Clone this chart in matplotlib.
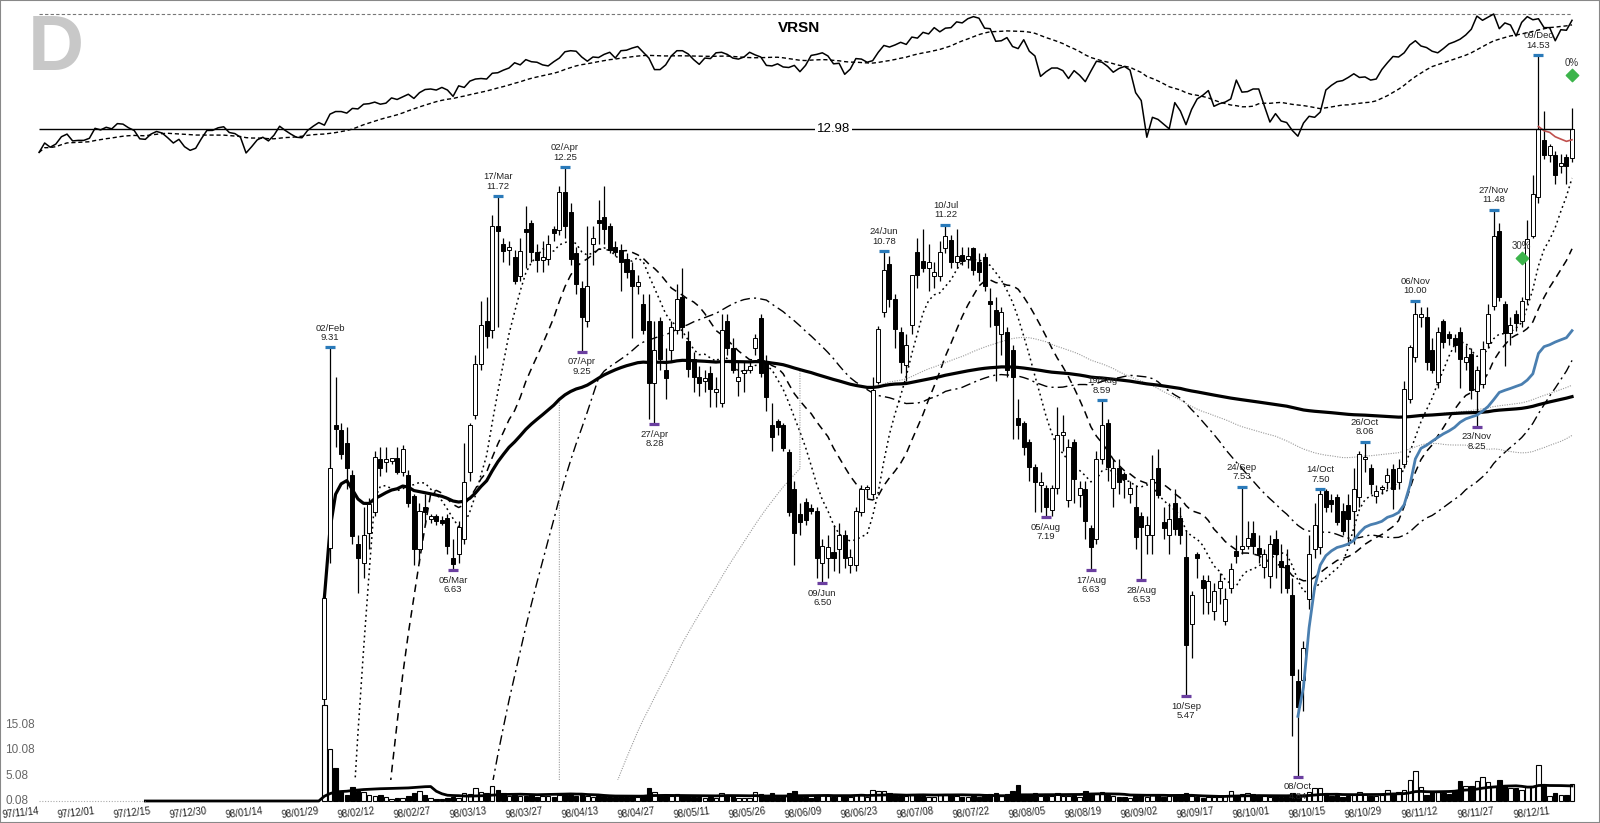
import numpy as np
import pandas as pd
import matplotlib
matplotlib.use('Agg')
import matplotlib.pyplot as plt
from matplotlib.patches import Rectangle
from matplotlib.transforms import blended_transform_factory

plt.rcParams['font.family'] = ['Liberation Sans', 'DejaVu Sans']

# trading-day index 0 = 97/11/14, VRSN listed on day 51 (98/01/30)
first_idx = 51

opens = [5.45, 6.86, 8.27, 8.21, 8.05, 7.67, 6.90, 6.70, 7.02, 7.25,
         7.85, 7.82, 7.83, 7.87, 7.70, 7.67, 7.42, 6.85, 7.30, 7.17,
         7.20, 7.15, 7.18, 6.75, 6.80, 6.95, 7.70, 8.40, 9.08, 9.70,
         9.56, 11.20, 10.90, 10.80, 10.68, 10.38, 11.15, 11.25, 10.77, 10.63,
         10.66, 11.15, 11.13, 11.80, 11.45, 10.75, 10.20, 9.70, 10.90, 11.30,
         11.35, 11.20, 10.85, 10.80, 10.65, 10.47, 10.22, 9.95, 9.70, 8.82,
         9.70, 9.00, 9.27, 9.56, 10.06, 9.40, 9.15, 8.90, 8.85, 8.96,
         8.70, 8.55, 9.70, 9.30, 8.85, 8.95, 9.00, 9.30, 9.73, 9.10,
         8.27, 8.32, 8.27, 7.94, 7.50, 7.22, 7.36, 7.28, 7.26, 6.70,
         6.75, 6.82, 6.85, 7.00, 6.68, 6.68, 7.25, 7.50, 7.45, 8.83,
         9.83, 10.57, 10.03, 9.53, 9.06, 9.63, 10.77, 10.62, 10.50, 10.38,
         10.38, 10.83, 10.96, 10.60, 10.72, 10.66, 10.83, 10.60, 10.68, 10.00,
         9.86, 9.50, 9.53, 9.27, 8.36, 8.30, 8.06, 7.76, 7.55, 7.52,
         7.27, 7.52, 8.15, 7.38, 8.06, 7.44, 7.50, 7.07, 6.95, 7.86,
         8.30, 7.52, 7.75, 7.68, 7.45, 7.30, 7.20, 7.00, 7.00, 7.75,
         7.14, 7.00, 7.35, 7.18, 6.77, 6.11, 6.80, 6.53, 6.32, 6.23,
         6.45, 6.14, 6.45, 6.83, 6.85, 6.88, 7.02, 6.86, 6.66, 6.57,
         6.95, 6.72, 6.68, 6.38, 5.60, 5.61, 6.35, 6.85, 6.87, 7.48,
         7.38, 7.41, 7.26, 7.32, 7.26, 7.41, 7.85, 7.75, 7.42, 7.50,
         7.58, 7.73, 7.58, 7.80, 8.61, 9.17, 9.75, 9.75, 9.27, 8.83,
         9.70, 9.50, 9.45, 9.53, 9.10, 9.22, 8.71, 8.81, 9.38, 9.92,
         11.12, 9.95, 9.51, 9.80, 9.70, 10.03, 11.03, 11.70, 12.78, 12.48,
         12.48, 12.28, 12.44, 12.42]
highs = [6.40, 9.31, 8.90, 8.30, 8.25, 7.72, 7.00, 7.30, 7.40, 7.95,
         8.00, 8.00, 7.87, 8.00, 8.02, 7.72, 7.45, 7.35, 7.45, 7.22,
         7.22, 7.20, 7.22, 6.95, 7.15, 8.05, 8.30, 9.20, 10.00, 10.05,
         11.40, 11.72, 11.00, 10.95, 10.80, 11.00, 11.55, 11.30, 10.90, 10.95,
         11.05, 11.20, 11.90, 12.25, 11.60, 10.85, 10.30, 11.20, 11.20, 11.65,
         11.90, 11.25, 10.95, 10.90, 10.75, 10.60, 10.40, 10.10, 10.10, 9.70,
         9.75, 9.30, 9.70, 10.25, 10.50, 9.55, 9.25, 9.05, 9.00, 9.05,
         8.90, 9.80, 9.80, 9.45, 9.10, 9.10, 9.10, 9.50, 9.80, 9.20,
         8.55, 8.35, 8.30, 7.98, 7.60, 7.35, 7.40, 7.33, 7.30, 6.95,
         7.00, 7.10, 7.12, 7.05, 6.85, 7.30, 7.55, 7.55, 8.90, 9.62,
         10.78, 10.70, 10.10, 9.60, 9.50, 10.40, 11.00, 11.15, 10.90, 10.60,
         10.95, 11.22, 11.05, 11.15, 10.85, 10.85, 10.85, 10.75, 10.75, 10.20,
         10.05, 9.90, 9.60, 9.35, 8.60, 8.32, 8.10, 7.80, 7.70, 7.55,
         7.55, 8.50, 8.40, 8.10, 8.10, 7.60, 7.60, 7.10, 7.95, 8.59,
         8.35, 7.85, 7.85, 7.70, 7.60, 7.55, 7.25, 7.20, 7.90, 7.98,
         7.30, 7.35, 7.50, 7.30, 7.05, 6.42, 6.82, 6.58, 6.58, 6.50,
         6.60, 6.45, 6.70, 7.00, 7.53, 7.15, 7.15, 7.00, 6.85, 7.00,
         7.05, 6.90, 6.85, 6.55, 5.70, 5.95, 7.00, 7.35, 7.50, 7.50,
         7.45, 7.45, 7.35, 7.45, 7.75, 7.95, 8.06, 7.80, 7.55, 7.55,
         7.75, 7.80, 7.85, 8.85, 9.35, 10.00, 9.90, 9.90, 9.45, 9.60,
         9.72, 9.55, 9.50, 9.60, 9.35, 9.30, 9.05, 9.40, 9.95, 11.48,
         11.25, 10.00, 9.75, 9.85, 10.05, 11.30, 12.10, 14.53, 13.35, 12.70,
         12.55, 12.50, 12.50, 13.40]
lows = [5.40, 6.70, 8.00, 7.85, 7.50, 6.90, 6.40, 6.55, 6.85, 7.20,
        7.65, 7.70, 7.80, 7.68, 7.65, 7.30, 6.68, 6.70, 7.10, 7.12,
        7.10, 7.10, 6.80, 6.63, 6.70, 6.90, 7.60, 8.35, 9.00, 9.30,
        9.45, 9.60, 10.60, 10.55, 10.25, 10.30, 10.50, 10.60, 10.45, 10.45,
        10.55, 10.95, 11.05, 11.00, 10.55, 10.10, 9.25, 9.60, 10.55, 10.90,
        10.90, 10.75, 10.70, 10.15, 10.35, 9.45, 10.10, 9.50, 8.35, 8.28,
        9.00, 8.60, 9.10, 9.50, 9.45, 8.90, 8.70, 8.65, 8.70, 8.50,
        8.50, 8.50, 9.20, 8.95, 8.65, 8.70, 8.95, 9.20, 8.90, 8.45,
        7.95, 8.15, 7.95, 7.20, 6.68, 7.00, 7.10, 7.22, 6.55, 6.50,
        6.55, 6.62, 6.60, 6.65, 6.60, 6.62, 7.20, 7.40, 7.40, 8.80,
        9.75, 9.90, 9.30, 8.95, 8.85, 9.50, 10.20, 10.45, 10.15, 10.20,
        10.30, 10.75, 10.50, 10.50, 10.55, 10.50, 10.40, 10.30, 10.15, 9.60,
        8.85, 9.20, 8.90, 8.10, 8.10, 7.90, 7.60, 7.25, 7.25, 7.19,
        7.20, 7.45, 7.95, 7.30, 7.35, 7.30, 6.95, 6.63, 6.90, 7.80,
        7.60, 7.30, 7.45, 7.40, 7.35, 6.85, 6.53, 6.80, 6.80, 7.40,
        6.95, 6.80, 7.00, 6.90, 5.47, 5.80, 6.55, 6.20, 6.20, 6.15,
        6.30, 6.10, 6.40, 6.70, 6.80, 6.85, 6.80, 6.70, 6.55, 6.45,
        6.55, 6.40, 6.40, 5.15, 4.84, 5.35, 6.25, 6.75, 6.80, 7.25,
        7.25, 7.10, 7.00, 6.90, 6.90, 7.30, 7.70, 7.45, 7.35, 7.45,
        7.50, 7.28, 7.50, 7.75, 8.55, 9.10, 9.60, 9.00, 8.95, 8.75,
        9.30, 9.35, 9.25, 8.75, 9.00, 8.60, 8.25, 8.75, 9.30, 9.85,
        10.00, 9.05, 9.35, 9.55, 9.60, 9.95, 11.00, 11.60, 12.40, 12.35,
        11.95, 12.15, 11.95, 12.35]
closes = [6.36, 7.75, 8.22, 7.92, 7.75, 6.98, 6.75, 7.00, 7.33, 7.88,
          7.75, 7.85, 7.85, 7.70, 7.97, 7.35, 6.85, 7.26, 7.25, 7.20,
          7.15, 7.13, 6.88, 6.69, 7.08, 7.58, 8.27, 9.08, 9.63, 9.48,
          11.20, 11.12, 10.78, 10.82, 10.30, 10.78, 11.10, 10.76, 10.63, 10.68,
          10.90, 11.08, 11.80, 11.20, 10.65, 10.25, 9.75, 10.22, 11.00, 11.25,
          11.15, 10.80, 10.76, 10.60, 10.45, 10.22, 10.28, 9.56, 8.82, 9.27,
          9.15, 8.88, 9.60, 10.03, 9.60, 9.01, 8.90, 8.82, 8.88, 8.74,
          8.70, 9.56, 9.30, 9.00, 8.90, 9.00, 9.05, 9.45, 8.96, 8.63,
          8.12, 8.25, 7.99, 7.25, 7.02, 7.14, 7.16, 7.26, 6.75, 6.88,
          6.87, 6.75, 7.00, 6.75, 6.76, 7.26, 7.50, 7.52, 8.72, 9.57,
          10.47, 10.03, 9.58, 9.10, 9.35, 10.39, 10.40, 10.50, 10.60, 10.45,
          10.77, 11.03, 10.61, 10.70, 10.62, 10.68, 10.47, 10.45, 10.22, 9.95,
          9.63, 9.83, 9.00, 8.90, 8.27, 8.00, 7.76, 7.58, 7.55, 7.30,
          7.52, 8.15, 8.18, 8.00, 7.62, 7.52, 7.15, 6.87, 7.86, 8.27,
          7.76, 7.75, 7.58, 7.62, 7.52, 6.97, 7.08, 7.10, 7.62, 7.44,
          7.07, 7.17, 7.06, 7.00, 5.92, 6.38, 6.75, 6.45, 6.52, 6.42,
          6.52, 6.35, 6.64, 6.78, 6.88, 6.96, 6.88, 6.80, 6.80, 6.90,
          6.80, 6.66, 6.45, 5.65, 5.38, 5.89, 6.80, 7.10, 7.45, 7.30,
          7.33, 7.14, 7.04, 7.17, 7.50, 7.91, 7.88, 7.56, 7.48, 7.52,
          7.67, 7.50, 7.75, 8.74, 9.31, 9.80, 9.80, 9.10, 8.99, 9.53,
          9.39, 9.45, 9.35, 9.15, 9.17, 8.72, 9.00, 9.29, 9.80, 11.03,
          10.06, 9.51, 9.63, 9.67, 10.00, 10.99, 11.76, 12.98, 12.48, 12.65,
          12.10, 12.30, 12.28, 12.98]
volumes = [18.9, 10.3, 6.5, 1.8, 1.2, 2.7, 2.0, 1.8, 1.2, 1.0,
           1.1, 0.8, 0.4, 0.6, 0.5, 0.9, 1.6, 2.0, 1.2, 0.6,
           0.4, 0.3, 0.6, 0.7, 0.6, 1.6, 1.4, 2.6, 1.8, 1.5,
           3.0, 2.2, 1.6, 1.0, 1.2, 0.9, 1.0, 1.1, 0.8, 1.0,
           0.9, 0.7, 1.1, 1.3, 1.2, 1.0, 1.3, 1.0, 0.8, 0.9,
           1.0, 0.8, 0.7, 0.9, 0.8, 1.0, 0.7, 1.1, 2.6, 1.8,
           1.2, 1.0, 0.9, 1.3, 1.1, 0.9, 0.8, 0.7, 0.6, 0.8,
           0.6, 1.6, 1.1, 0.9, 0.6, 0.5, 0.5, 1.8, 1.4, 1.2,
           1.5, 0.8, 1.0, 1.6, 1.9, 1.0, 0.8, 0.6, 1.2, 1.1,
           0.9, 0.8, 1.0, 0.9, 0.7, 1.2, 1.3, 0.8, 2.2, 1.9,
           2.0, 1.5, 1.2, 1.0, 0.9, 1.4, 1.3, 1.0, 0.8, 0.7,
           1.1, 1.3, 1.1, 0.9, 0.8, 0.7, 0.9, 0.8, 1.0, 1.4,
           1.6, 1.0, 1.3, 1.9, 3.2, 1.4, 1.2, 1.5, 1.0, 1.3,
           0.9, 1.5, 1.0, 0.9, 1.2, 0.8, 1.9, 1.6, 1.6, 1.7,
           1.2, 0.9, 0.8, 0.7, 0.6, 1.0, 1.1, 0.8, 1.2, 1.2,
           0.8, 0.9, 1.0, 0.9, 1.6, 1.0, 0.7, 0.6, 0.8, 0.7,
           0.8, 0.9, 1.9, 1.2, 1.4, 1.5, 1.3, 1.0, 0.9, 0.8,
           0.9, 0.8, 0.9, 1.5, 0.9, 1.2, 1.8, 2.5, 2.5, 1.5,
           1.0, 1.1, 0.8, 1.0, 1.2, 1.8, 1.3, 1.0, 0.9, 1.2,
           2.1, 1.5, 1.8, 2.1, 4.1, 5.9, 2.8, 1.2, 2.0, 1.8,
           1.6, 1.4, 2.0, 3.9, 2.9, 2.9, 3.9, 4.7, 3.7, 3.0,
           4.2, 2.9, 2.5, 2.6, 2.2, 2.8, 3.0, 7.2, 2.9, 0.9,
           1.5, 1.2, 1.2, 3.4]

# market index shown in the top strip, one value per trading day from 97/11/14
index_line = [928, 946, 938, 944, 958, 963, 950, 951, 951, 955,
              974, 971, 976, 973, 983, 982, 975, 970, 954, 953,
              963, 968, 965, 956, 946, 953, 939, 932, 936, 954,
              970, 970, 975, 977, 966, 964, 957, 927, 939, 952,
              957, 950, 961, 978, 970, 963, 957, 956, 970, 978,
              985, 980, 1001, 1006, 1006, 1003, 1012, 1011, 1020, 1021,
              1024, 1020, 1022, 1032, 1029, 1034, 1039, 1031, 1042, 1048,
              1049, 1047, 1052, 1047, 1035, 1055, 1052, 1064, 1068, 1069,
              1068, 1079, 1080, 1085, 1089, 1099, 1095, 1105, 1101, 1100,
              1095, 1093, 1101, 1108, 1120, 1122, 1121, 1110, 1102, 1110,
              1109, 1115, 1119, 1108, 1122, 1123, 1127, 1130, 1119, 1108,
              1086, 1086, 1095, 1112, 1122, 1122, 1116, 1105, 1096, 1108,
              1107, 1118, 1119, 1115, 1108, 1106, 1110, 1119, 1114, 1110,
              1094, 1093, 1097, 1091, 1090, 1094, 1082, 1094, 1113, 1115,
              1118, 1112, 1097, 1098, 1077, 1087, 1107, 1106, 1100, 1103,
              1119, 1132, 1129, 1133, 1138, 1134, 1148, 1146, 1157, 1154,
              1166, 1158, 1165, 1166, 1177, 1175, 1183, 1187, 1184, 1165,
              1164, 1140, 1141, 1147, 1130, 1126, 1143, 1121, 1112, 1073,
              1082, 1089, 1089, 1084, 1069, 1084, 1075, 1063, 1083, 1102,
              1100, 1092, 1081, 1088, 1092, 1085, 1042, 1027, 957, 995,
              991, 982, 973, 1023, 1007, 981, 1010, 1030, 1037, 1046,
              1016, 1021, 1024, 1030, 1066, 1043, 1044, 1049, 1049, 1017,
              986, 1002, 988, 985, 970, 959, 984, 997, 995, 1005,
              1047, 1056, 1063, 1065, 1071, 1078, 1071, 1072, 1066, 1068,
              1086, 1099, 1111, 1110, 1118, 1133, 1141, 1131, 1128, 1121,
              1118, 1126, 1135, 1139, 1144, 1152, 1163, 1188, 1180, 1186,
              1192, 1164, 1175, 1171, 1150, 1176, 1187, 1181, 1183, 1166,
              1166, 1141, 1162, 1161, 1180]

date_labels = ['97/11/14', '97/12/01', '97/12/15', '97/12/30', '98/01/14', '98/01/29',
               '98/02/12', '98/02/27', '98/03/13', '98/03/27', '98/04/13', '98/04/27',
               '98/05/11', '98/05/26', '98/06/09', '98/06/23', '98/07/08', '98/07/22',
               '98/08/05', '98/08/19', '98/09/02', '98/09/17', '98/10/01', '98/10/15',
               '98/10/29', '98/11/12', '98/11/27', '98/12/11']

peak_idx = [52, 82, 94, 151, 162, 190, 215, 229, 237, 246, 260, 268]
peak_day = ['02/Feb', '17/Mar', '02/Apr', '24/Jun', '10/Jul', '19/Aug',
            '24/Sep', '14/Oct', '26/Oct', '06/Nov', '27/Nov', '09/Dec']
peak_val = [9.31, 11.72, 12.25, 10.78, 11.22, 8.59, 7.53, 7.50, 8.06, 10.00, 11.48, 14.53]

trough_idx = [74, 97, 110, 140, 180, 188, 197, 205, 225, 257]
trough_day = ['05/Mar', '07/Apr', '27/Apr', '09/Jun', '05/Aug', '17/Aug',
              '28/Aug', '10/Sep', '08/Oct', '23/Nov']
trough_val = [6.63, 9.25, 8.28, 6.50, 7.19, 6.63, 6.53, 5.47, 4.84, 8.25]

signal_idx = [265, 274]
signal_val = [10.67, 14.11]
signal_txt = ['30%', '0%']

vol_ticks = [0.08, 5.08, 10.08, 15.08]
vol_base = 0.08

# the two thin grey averages switch from zero-padded to data-only values on these days
grey_switch = [(200, 93), (100, 136)]

# ---------------------------------------------------------------
W, H = 1600, 823
xlim = (-6.98, 279.0)
o, h, l, c, v = (np.array(a, dtype=float) for a in (opens, highs, lows, closes, volumes))
idx = np.arange(first_idx, first_idx + len(c))
up = c >= o

fig = plt.figure(figsize=(W / 100, H / 100), dpi=100)
ax_v = fig.add_axes([0, 0, 1, 1])
ax_r = fig.add_axes([0, 1 - 160 / H, 1, 160 / H])
ax_p = fig.add_axes([0, 43 / H, 1, 780 / H])
for a, z in ((ax_v, 1), (ax_r, 2), (ax_p, 3)):
    a.set_xlim(*xlim)
    a.axis('off')
    a.set_zorder(z)

# volume strip
ax_v.set_ylim(-4.27, 158.4)
ax_v.bar(idx[up], v[up], width=0.8, bottom=vol_base, facecolor='white', edgecolor='black', lw=0.8)
ax_v.bar(idx[~up], v[~up], width=0.8, bottom=vol_base, facecolor='black', edgecolor='black', lw=0.8)
vol_pad = pd.Series(np.r_[np.zeros(first_idx), v])
ax_v.plot(np.arange(len(vol_pad)), vol_base + vol_pad.rolling(20).mean(), color='black', lw=2)
ax_v.hlines(vol_base, 0, 19, color='#aaaaaa', lw=0.8, linestyles=(0, (1, 1.5)))

tr = blended_transform_factory(fig.transFigure, ax_v.transData)
for t in vol_ticks:
    ax_v.text(5 / W, t, f'{t:.2f}', transform=tr, ha='left', va='center', fontsize=8.5, color='#666666')
tr = blended_transform_factory(ax_v.transData, fig.transFigure)
for k, lab in enumerate(date_labels):
    ax_v.text(10 * k, 1 - 811 / H, lab, transform=tr, rotation=6, rotation_mode='anchor',
              ha='right', va='center', fontsize=7, color='#222222')

# market strip at the top
spx = pd.Series(index_line, dtype=float)
xs_r = np.arange(len(spx))
ax_r.set_ylim(913.6, 1218.7)
ax_r.hlines(spx.max(), 0, xs_r[-1], color='#777777', lw=0.8, linestyles=(0, (3, 2)))
ax_r.plot(xs_r, spx.rolling(20, min_periods=1).mean(), color='black', lw=1, ls=(0, (3, 2)))
ax_r.plot(xs_r, spx, color='black', lw=1.1)

# price panel
ax_p.set_yscale('log')
ax_p.set_ylim(4.816, 15.808)

pad = pd.Series(np.r_[np.zeros(first_idx), c])
xs = np.arange(len(pad))
ma_styles = [(10, dict(color='black', lw=1.1, ls=(0, (1.2, 2.2)))),
             (20, dict(color='black', lw=1.1, ls=(0, (5, 3.5)))),
             (50, dict(color='black', lw=1.0, ls=(0, (7, 3, 1.5, 3))))]
for n_days, style in ma_styles:
    m = pad.rolling(n_days).mean()
    ax_p.plot(xs, m.where(m > 0), zorder=2, **style)

grey = dict(color='#9a9a9a', lw=0.8, ls=(0, (1, 1.2)), zorder=2)
for n_days, switch in grey_switch:
    padded = pad.rolling(n_days, min_periods=1).mean().where(lambda s: s > 0)
    own = pd.Series(c).rolling(n_days, min_periods=1).mean().values
    k = idx >= switch
    ax_p.plot(np.r_[xs[:switch + 1], idx[k]], np.r_[padded.values[:switch + 1], own[k]], **grey)

ax_p.plot(idx, pd.Series(c).expanding().mean(), color='black', lw=2.3, zorder=2)

tp = (h + l + c) / 3
for start, col, lw in ((225, '#4a7fb0', 2.0), (268, '#c0504d', 1.2)):
    k = idx >= start
    ax_p.plot(idx[k], np.cumsum(tp[k] * v[k]) / np.cumsum(v[k]), color=col, lw=lw, zorder=4)

ax_p.vlines(idx, l, h, color='black', lw=0.9, zorder=3)
body_lo = np.minimum(o, c)
body_hi = np.maximum(np.maximum(o, c), body_lo * 1.004)
ax_p.bar(idx, body_hi - body_lo, bottom=body_lo, width=0.72,
         color=np.where(up, 'white', 'black'), edgecolor='black', lw=0.7, zorder=3)

ax_p.hlines(c[-1], 0, idx[-1], color='black', lw=1, zorder=4)
ax_p.text(142, c[-1], f'{c[-1]:.2f}', ha='center', va='center', fontsize=9.5, zorder=5,
          bbox=dict(facecolor='white', edgecolor='none', pad=1.5))

ax_p.plot(peak_idx, peak_val, ls='none', marker='_', ms=6.5, mew=2.3, color='#2a7ab9', zorder=5, clip_on=False)
ax_p.plot(trough_idx, trough_val, ls='none', marker='_', ms=6.5, mew=2.3, color='#6b3fa0', zorder=5, clip_on=False)
for i, d, val in zip(peak_idx, peak_day, peak_val):
    ax_p.annotate(f'{d}\n{val:.2f}', (i, val), xytext=(0, 4), textcoords='offset points',
                  ha='center', va='bottom', fontsize=6.8, linespacing=1.05, color='#222222', zorder=6)
for i, d, val in zip(trough_idx, trough_day, trough_val):
    ax_p.annotate(f'{d}\n{val:.2f}', (i, val), xytext=(0, -4), textcoords='offset points',
                  ha='center', va='top', fontsize=6.8, linespacing=1.05, color='#222222', zorder=6,
                  annotation_clip=False)

ax_p.scatter(signal_idx, signal_val, marker='D', s=40, color='#3cb44b', zorder=6)
for i, val, t in zip(signal_idx, signal_val, signal_txt):
    ax_p.annotate(t, (i, val), xytext=(0, 5), textcoords='offset points', ha='center',
                  va='bottom', fontsize=7, color='#333333', zorder=6)

fig.text(28 / W, 1 - 49 / H, 'D', fontsize=56, fontweight='bold', color='#c8c8c8', ha='left', va='center')
fig.text(799 / W, 1 - 28 / H, 'VRSN', fontsize=11, fontweight='bold', ha='center', va='center')
fig.add_artist(Rectangle((0, 0), 1, 1, transform=fig.transFigure, fill=False, ec='#888888', lw=1.5))

fig.savefig('out.png', dpi=100)
